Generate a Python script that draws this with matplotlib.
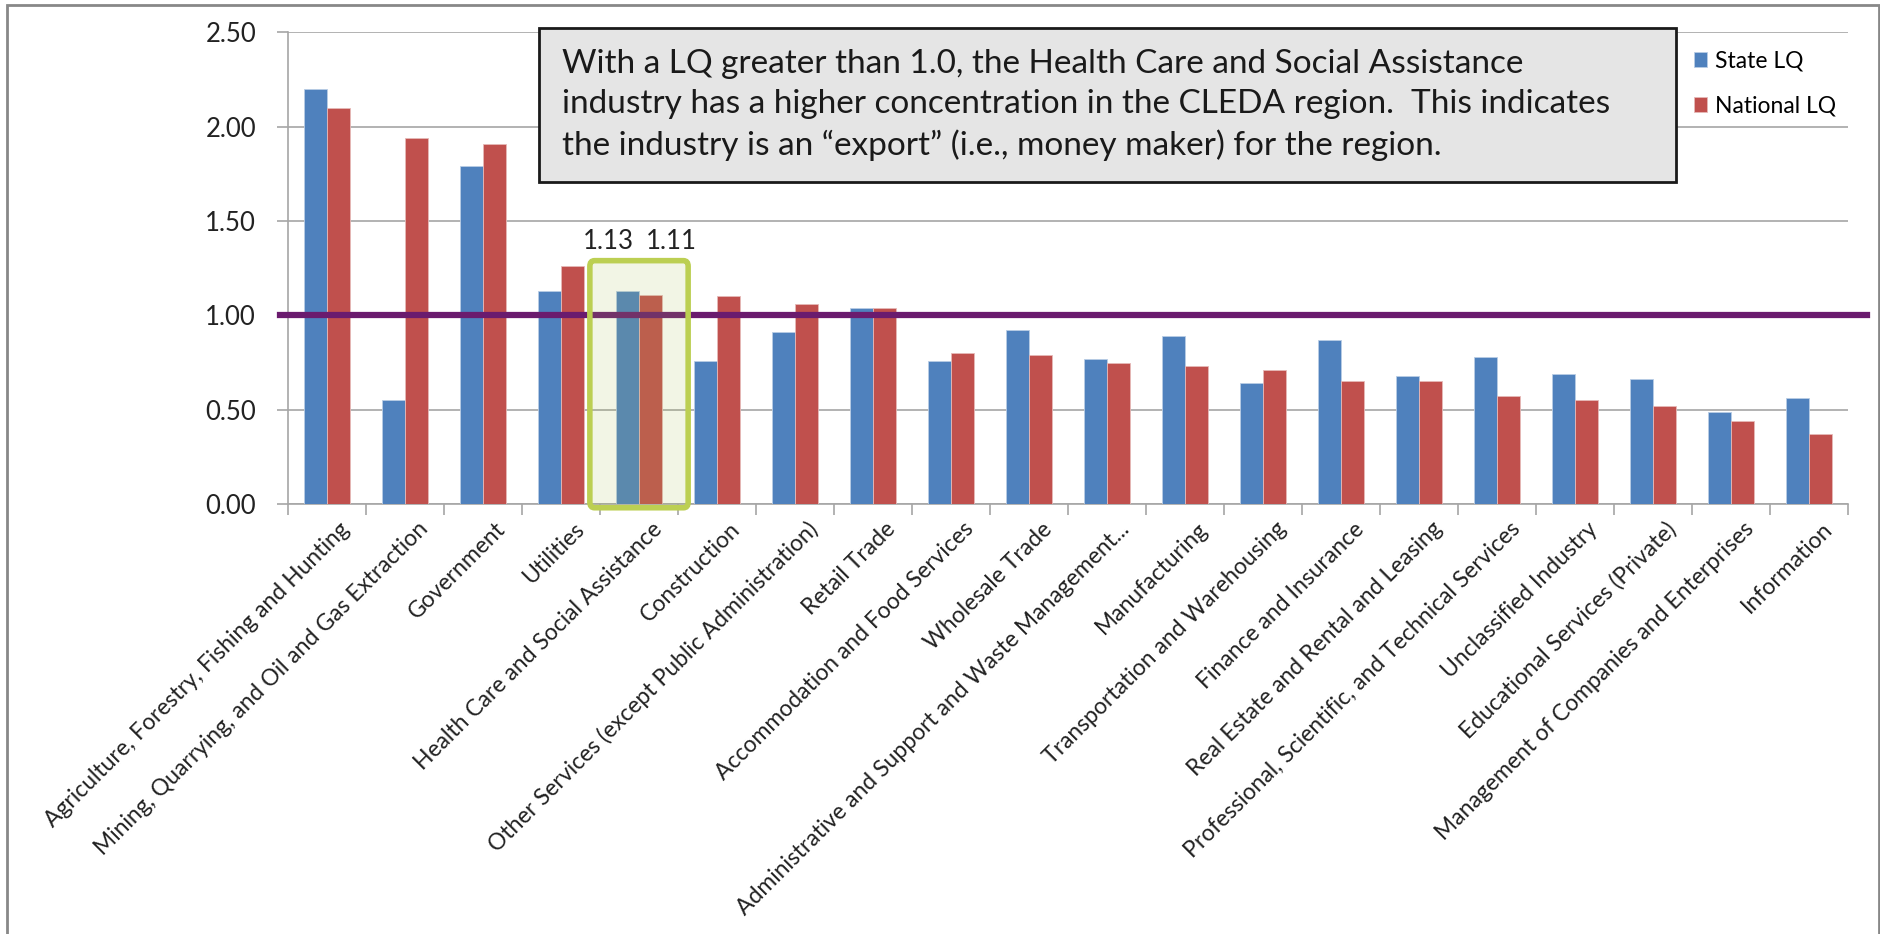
import numpy as np
import matplotlib
matplotlib.use('Agg')
import matplotlib.pyplot as plt
from matplotlib.patches import Rectangle, FancyBboxPatch
import matplotlib.transforms as mtransforms

plt.rcParams['font.family'] = ['Lato', 'DejaVu Sans']

industries = [
    'Agriculture, Forestry, Fishing and Hunting',
    'Mining, Quarrying, and Oil and Gas Extraction',
    'Government',
    'Utilities',
    'Health Care and Social Assistance',
    'Construction',
    'Other Services (except Public Administration)',
    'Retail Trade',
    'Accommodation and Food Services',
    'Wholesale Trade',
    'Administrative and Support and Waste Management...',
    'Manufacturing',
    'Transportation and Warehousing',
    'Finance and Insurance',
    'Real Estate and Rental and Leasing',
    'Professional, Scientific, and Technical Services',
    'Unclassified Industry',
    'Educational Services (Private)',
    'Management of Companies and Enterprises',
    'Information',
]
state_lq = [2.20, 0.55, 1.79, 1.13, 1.13, 0.76, 0.91, 1.04, 0.76, 0.92,
            0.77, 0.89, 0.64, 0.87, 0.68, 0.78, 0.69, 0.66, 0.49, 0.56]
national_lq = [2.10, 1.94, 1.91, 1.26, 1.11, 1.10, 1.06, 1.04, 0.80, 0.79,
               0.75, 0.73, 0.71, 0.65, 0.65, 0.57, 0.55, 0.52, 0.44, 0.37]
y_ticks = [0.0, 0.5, 1.0, 1.5, 2.0, 2.5]
highlight = 4  # Health Care and Social Assistance
note = ('With a LQ greater than 1.0, the Health Care and Social Assistance\n'
        'industry has a higher concentration in the CLEDA region.  This indicates\n'
        'the industry is an \u201cexport\u201d (i.e., money maker) for the region.')

BLUE = '#4f81bd'
RED = '#c0504d'
GRID = '#a6a6a6'

fig = plt.figure(figsize=(18.81, 9.34), dpi=100)
ax = fig.add_axes([0.1531, 0.4604, 0.8294, 0.5049])

x = np.arange(len(industries))
w = 0.29
ax.bar(x - w / 2, state_lq, w, color=BLUE, edgecolor='#b9cde5', linewidth=0.6,
       label='State LQ', zorder=3)
ax.bar(x + w / 2, national_lq, w, color=RED, edgecolor='#e6b9b8', linewidth=0.6,
       label='National LQ', zorder=3)

ax.set_xlim(-0.5, len(industries) - 0.5)
ax.set_ylim(0, 2.5)
ax.set_yticks(y_ticks)
ax.set_yticklabels([f'{v:.2f}' for v in y_ticks])
ax.yaxis.grid(True, color=GRID, linewidth=1.2, zorder=0)
ax.set_axisbelow(True)

# category boundary ticks
ax.set_xticks(np.arange(len(industries) + 1) - 0.5)
ax.set_xticklabels([])
ax.tick_params(axis='x', length=8, color=GRID, width=1.2)
ax.tick_params(axis='y', length=8, color=GRID, width=1.2, labelsize=18.5,
               labelcolor='#222222', pad=15)
for s in ['top', 'right']:
    ax.spines[s].set_visible(False)
for s in ['left', 'bottom']:
    ax.spines[s].set_color(GRID)
    ax.spines[s].set_linewidth(1.2)

for i, name in enumerate(industries):
    ax.text(i + 0.25, -0.115, name, rotation=45, rotation_mode='anchor',
            ha='right', va='center', fontsize=16.5, color='#222222')

# reference line at LQ = 1.0
trans = mtransforms.blended_transform_factory(ax.transAxes, ax.transData)
ax.plot([-0.005, 1.012], [1.0, 1.0], color='#6a1b6e', linewidth=4.5,
        transform=trans, clip_on=False, zorder=5)

# highlight box
hb = FancyBboxPatch((highlight - 0.63, -0.02), 1.26, 1.31,
                    boxstyle='round,pad=0,rounding_size=0.06',
                    facecolor=(0.65, 0.75, 0.3, 0.14), edgecolor='#bccf52',
                    linewidth=4, clip_on=False, zorder=6,
                    mutation_aspect=0.5)
ax.add_patch(hb)
ax.text(highlight - 0.39, 1.39, f'{state_lq[highlight]:.2f}', ha='center',
        va='center', fontsize=18.5, color='#222222')
ax.text(highlight + 0.41, 1.39, f'{national_lq[highlight]:.2f}', ha='center',
        va='center', fontsize=18.5, color='#222222')

# annotation box
fig.patches.append(Rectangle((539 / 1881, 1 - 182 / 934), (1676 - 539) / 1881,
                             (182 - 28) / 934, transform=fig.transFigure,
                             facecolor='#e5e5e5', edgecolor='#1a1a1a',
                             linewidth=2, zorder=10))
fig.text(562 / 1881, 1 - 105 / 934, note, ha='left', va='center',
         fontsize=24, color='#1a1a1a', linespacing=1.4, zorder=11)

leg = ax.legend(loc='upper left', bbox_to_anchor=(1673 / 1881, 1 - 30 / 934),
                bbox_transform=fig.transFigure, frameon=False, fontsize=16.5,
                handlelength=0.6, handleheight=0.6, handletextpad=0.35,
                labelspacing=1.05)

# outer chart border
fig.patches.append(Rectangle((7 / 1881, -0.01), (1879 - 7) / 1881, 1 - 5 / 934 + 0.01,
                             transform=fig.transFigure, facecolor='none',
                             edgecolor='#888888', linewidth=2, zorder=0))

fig.savefig('out.png', dpi=100)
